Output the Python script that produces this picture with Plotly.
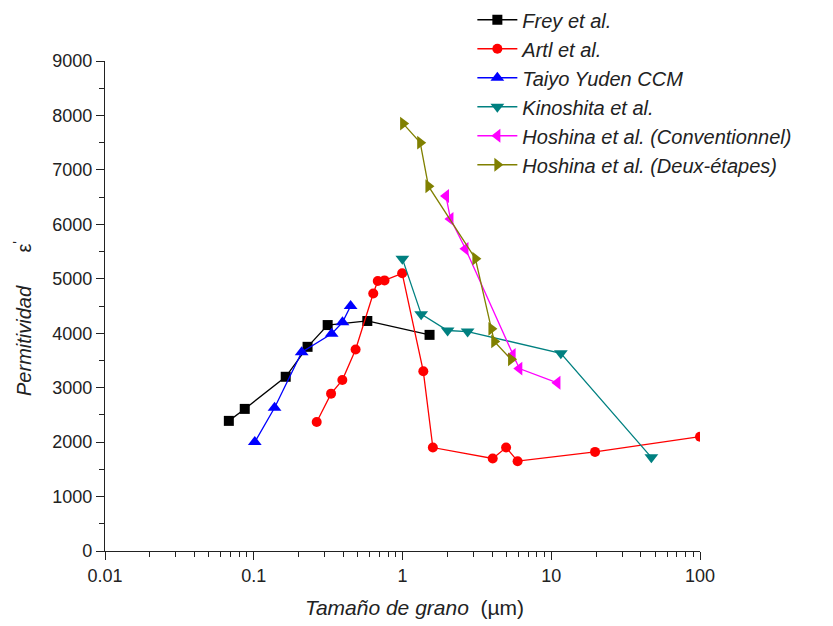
import plotly.graph_objects as go

frey_x = [0.068, 0.087, 0.164, 0.23, 0.314, 0.58, 1.52]
frey_y = [2390, 2610, 3200, 3750, 4150, 4225, 3970]

artl_x = [0.265, 0.331, 0.394, 0.484, 0.636, 0.682, 0.757, 0.995, 1.38, 1.6, 4.04, 4.97, 5.94, 19.7, 100]
artl_y = [2370, 2890, 3140, 3700, 4730, 4960, 4970, 5100, 3300, 1900, 1700, 1900, 1650, 1820, 2100]

taiyo_x = [0.1016, 0.138, 0.21, 0.334, 0.395, 0.448]
taiyo_y = [2000, 2630, 3650, 3990, 4200, 4500]

kino_x = [0.998, 1.335, 2.01, 2.74, 11.6, 47.1]
kino_y = [5370, 4350, 4050, 4030, 3630, 1720]

hconv_x = [1.96, 2.1, 2.65, 5.5, 6.1, 11.0]
hconv_y = [6520, 6100, 5550, 3600, 3350, 3090]

hdeux_x = [1.01, 1.315, 1.494, 3.09, 3.96, 4.14, 5.37]
hdeux_y = [7850, 7500, 6700, 5370, 4080, 3850, 3520]

x_tickvals = [0.01, 0.1, 1, 10, 100]
x_ticktext = ["0.01", "0.1", "1", "10", "100"]
y_tickvals = [0, 1000, 2000, 3000, 4000, 5000, 6000, 7000, 8000, 9000]

x_title = "<i>Tamaño de grano</i>  (µm)"
y_title = "<i>Permitividad</i>      ε<sup>'</sup>"

series = [
    ("Frey et al.", frey_x, frey_y, "#000000", "square", 10),
    ("Artl et al.", artl_x, artl_y, "#FF0000", "circle", 10),
    ("Taiyo Yuden CCM", taiyo_x, taiyo_y, "#0000FF", "triangle-up", 12),
    ("Kinoshita et al.", kino_x, kino_y, "#008080", "triangle-down", 12),
    ("Hoshina et al. (Conventionnel)", hconv_x, hconv_y, "#FF00FF", "triangle-left", 12),
    ("Hoshina et al. (Deux-étapes)", hdeux_x, hdeux_y, "#808000", "triangle-right", 12),
]

fig = go.Figure()
for name, xs, ys, col, sym, sz in series:
    fig.add_trace(go.Scatter(
        x=xs, y=ys, mode="lines+markers", name=name,
        line=dict(color=col, width=1.3),
        marker=dict(color=col, symbol=sym, size=sz, line=dict(width=0)),
    ))

fig.update_layout(
    width=833, height=626,
    margin=dict(l=97, r=141, t=53, b=83, autoexpand=False),
    paper_bgcolor="white", plot_bgcolor="white",
    font=dict(family="Liberation Sans, Arial", color="#222222", size=18),
    showlegend=True,
    legend=dict(
        x=0.6174, y=1.124, xanchor="left", yanchor="top",
        font=dict(size=20, color="#222222", style="italic"),
        bgcolor="rgba(0,0,0,0)", tracegroupgap=0, itemwidth=40,
    ),
    xaxis=dict(
        type="log", range=[-2, 2], automargin=False,
        tickvals=x_tickvals, ticktext=x_ticktext,
        ticks="outside", ticklen=8, tickcolor="#222", tickwidth=1,
        showline=True, linecolor="#222", linewidth=1.2,
        showgrid=False, zeroline=False,
        minor=dict(ticks="outside", ticklen=5, dtick="D1", tickcolor="#222", showgrid=False),
        tickfont=dict(size=18),
    ),
    yaxis=dict(
        range=[0, 9000], tickvals=y_tickvals, automargin=False,
        ticks="outside", ticklen=8, tickcolor="#222", tickwidth=1,
        showline=True, linecolor="#222", linewidth=1.2,
        showgrid=False, zeroline=False,
        minor=dict(ticks="outside", ticklen=5, dtick=500, tickcolor="#222", showgrid=False),
        tickfont=dict(size=18),
    ),
    annotations=[
        dict(text=x_title, xref="paper", yref="paper", x=0.521, y=-0.1163,
             xanchor="center", yanchor="middle", showarrow=False,
             font=dict(size=21, color="#222222")),
        dict(text=y_title, xref="paper", yref="paper", x=-0.1378, y=0.4735,
             xanchor="center", yanchor="middle", showarrow=False, textangle=-90,
             font=dict(size=20, color="#222222")),
    ],
)

fig.write_html("out.html")
